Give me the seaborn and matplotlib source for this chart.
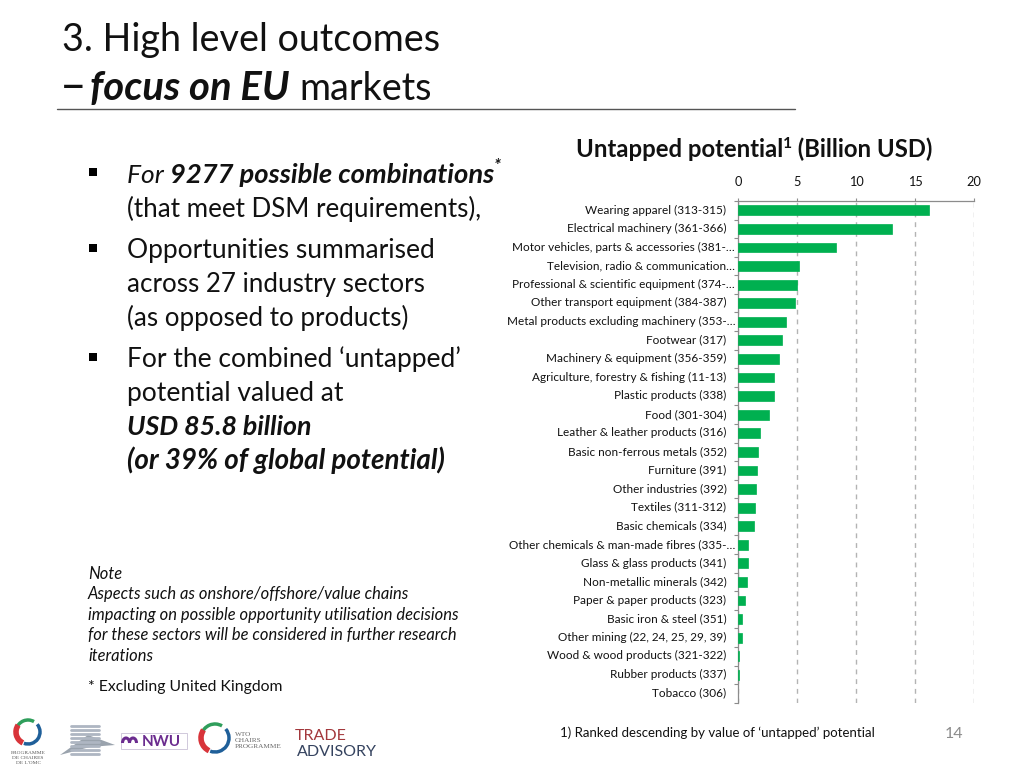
import seaborn as sns
import pandas as pd
import matplotlib.pyplot as plt
import numpy as np
from matplotlib.patches import Arc, Rectangle, Polygon
from matplotlib.transforms import ScaledTranslation

sectors = ["Wearing apparel (313-315)", "Electrical machinery (361-366)", "Motor vehicles, parts & accessories (381-…",
           "Television, radio & communication…", "Professional & scientific equipment (374-…", "Other transport equipment (384-387)",
           "Metal products excluding machinery (353-…", "Footwear (317)", "Machinery & equipment (356-359)",
           "Agriculture, forestry & fishing (11-13)", "Plastic products (338)", "Food (301-304)",
           "Leather & leather products (316)", "Basic non-ferrous metals (352)", "Furniture (391)",
           "Other industries (392)", "Textiles (311-312)", "Basic chemicals (334)",
           "Other chemicals & man-made fibres (335-…", "Glass & glass products (341)", "Non-metallic minerals (342)",
           "Paper & paper products (323)", "Basic iron & steel (351)", "Other mining (22, 24, 25, 29, 39)",
           "Wood & wood products (321-322)", "Rubber products (337)", "Tobacco (306)"]
untapped = [16.18, 13.07, 8.26, 5.15, 4.98, 4.81, 4.07, 3.68, 3.45, 3.06, 3.05, 2.63, 1.84, 1.67, 1.61,
            1.50, 1.44, 1.30, 0.85, 0.79, 0.74, 0.60, 0.31, 0.28, 0.10, 0.08, 0.0]
x_ticks = [0, 5, 10, 15, 20]

GREY = "#b3b3b3"
TEXT = "#111111"

sns.set_style("white")
plt.rcParams['font.family'] = ['Lato', 'DejaVu Sans']

fig = plt.figure(figsize=(10.24, 7.68), dpi=100)

# whole slide in pixel coordinates, for everything around the chart
bg = fig.add_axes([0, 0, 1, 1])
bg.set_xlim(0, 1024)
bg.set_ylim(768, 0)
bg.axis("off")


def runs(x, y, parts, size, color=TEXT):
    # text with mixed styles on one baseline, each part starts where the last ended
    r = fig.canvas.get_renderer()
    for p in parts:
        s = p[0]
        style = p[1].split() if len(p) > 1 else []
        up = "sup" in style
        t = bg.text(x, y - (size * 0.55 if up else 0), s, fontsize=size * (0.65 if up else 1), color=color,
                    fontweight="bold" if "b" in style else "normal",
                    fontstyle="italic" if "i" in style else "normal",
                    va="baseline", ha="left")
        x = t.get_window_extent(r).x1
    return x


# title
runs(62, 51, [("3. High level outcomes",)], 27.2)
runs(60, 100, [("–",)], 33)
runs(90, 100, [("focus on EU", "b i")], 28.8)
runs(299, 100, [("markets",)], 27.2)
bg.plot([57, 795], [109, 109], color="#555555", lw=1)

# bullets
for by in [173, 249, 358]:
    bg.add_patch(Rectangle((89, by - 5), 8, 8, color="black", lw=0))
end = runs(127, 183, [("For ", "i")], 19)
runs(end, 183, [("9277 possible combinations", "b i"), ("*", "b i sup")], 19.7)
runs(127, 217, [("(that meet DSM requirements),",)], 18.7)
runs(127, 258, [("Opportunities summarised",)], 19)
runs(127, 292, [("across 27 industry sectors",)], 18.7)
runs(127, 326, [("(as opposed to products)",)], 18.7)
runs(127, 367, [("For the combined ‘untapped’",)], 19)
runs(127, 401, [("potential valued at",)], 19)
runs(127, 435, [("USD 85.8 billion", "b i")], 19.3)
runs(127, 469, [("(or 39% of global potential)", "b i")], 20)

# note
note_lines = ["Note", "Aspects such as onshore/offshore/value chains",
              "impacting on possible opportunity utilisation decisions",
              "for these sectors will be considered in further research", "iterations"]
for ny, line in zip([579, 599, 620, 640, 661], note_lines):
    runs(88, ny, [(line, "i")], 11.9)
runs(88, 691, [("* Excluding United Kingdom",)], 11.3)

# chart heading and footers
runs(576, 157, [("Untapped potential", "b"), ("1", "b sup"), (" (Billion USD)", "b")], 17.2)
runs(560, 737, [("1) Ranked descending by value of ‘untapped’ potential",)], 9.55)
bg.text(945, 738, "14", fontsize=11.5, color="#8c8c8c", va="baseline")


# logos, only roughly
def ring(cx, cy, rad):
    for start, end, col, w in [(195, 300, "#2f9e5b", 2.5), (320, 110, "#1f5f99", 2.5), (115, 215, "#d8343a", 4)]:
        bg.add_patch(Arc((cx, cy), 2 * rad, 2 * rad, theta1=start, theta2=end, color=col, lw=w))


ring(28, 732, 12)
for ly, s in zip([754, 759, 764], ["PROGRAMME", "DE CHAIRES", "DE L'OMC"]):
    bg.text(28, ly, s, fontsize=3.9, family="Liberation Serif", ha="center", color="#555555")
for ly in np.arange(726, 758, 4):
    bg.plot([71, 99], [ly, ly], color="#aeb6c2", lw=2)
bg.add_patch(Polygon([[60, 755], [88, 735], [115, 745], [90, 747]], color="#9aa3ad", lw=0))
bg.add_patch(Rectangle((121, 733), 66, 16, fill=False, ec="#c9c0d6", lw=0.6))
# NWU emblem, two small arches
for ax_x in [126, 133]:
    bg.add_patch(Arc((ax_x, 743), 7, 10, theta1=180, theta2=360, color="#6b2c8f", lw=2.2))
bg.text(142, 746.5, "NWU", fontsize=11, color="#6b2c8f", fontweight="bold")
ring(215, 738, 14)
for ly, s in zip([736, 741.5, 747.5], ["WTO", "CHAIRS", "PROGRAMME"]):
    bg.text(235, ly, s, fontsize=5.2, family="Liberation Serif", color="#666666")
bg.text(295, 740, "TRADE", fontsize=11.5, color="#a3383c")
bg.text(297, 756, "ADVISORY", fontsize=11.5, color="#35435f")

# the chart
ax = fig.add_axes([738.3 / 1024, 1 - 702.7 / 768, (974 - 738.3) / 1024, (702.7 - 201) / 768])
df = pd.DataFrame({"sector": sectors, "untapped": untapped})
sns.barplot(data=df, x="untapped", y="sector", color="#00b050", saturation=1, width=0.53, ax=ax, zorder=3,
            edgecolor="#00b050", linewidth=0.5)
for bar in ax.patches:
    if bar.get_width() == 0:
        bar.set_visible(False)
ax.patch.set_alpha(0)
ax.set_xlim(0, 20)
ax.set_xlabel("")
ax.set_ylabel("")
ax.xaxis.tick_top()
ax.set_xticks(x_ticks)
ax.grid(axis="x", color=GREY, ls=(0, (3.5, 3.5)), lw=1, zorder=0)
ax.grid(axis="y", visible=False)
sns.despine(ax=ax, top=False, right=True, bottom=True, left=False)
for side in ["top", "left"]:
    ax.spines[side].set_color("#8c8c8c")
    ax.spines[side].set_linewidth(0.9)
ax.tick_params(axis="x", top=True, length=2.5, width=0.8, color="#8c8c8c", labelsize=9.2, labelcolor=TEXT, pad=6.5)
ax.tick_params(axis="y", which="major", left=False, length=0, labelsize=8.5, labelcolor=TEXT)
ax.set_yticks(np.arange(-0.5, 27, 1), minor=True)
ax.tick_params(axis="y", which="minor", left=True, length=3, width=0.8, color="#8c8c8c")
# cut-off labels sit closer to the axis in the original
lift = ScaledTranslation(0, 1.3 / 100, fig.dpi_scale_trans)
for tick, name in zip(ax.yaxis.get_major_ticks(), sectors):
    tick.set_pad(2.2 if name.endswith("…") else 8.5)
    tick.label1.set_transform(tick.label1.get_transform() + lift)

plt.savefig("out.png", dpi=100)
